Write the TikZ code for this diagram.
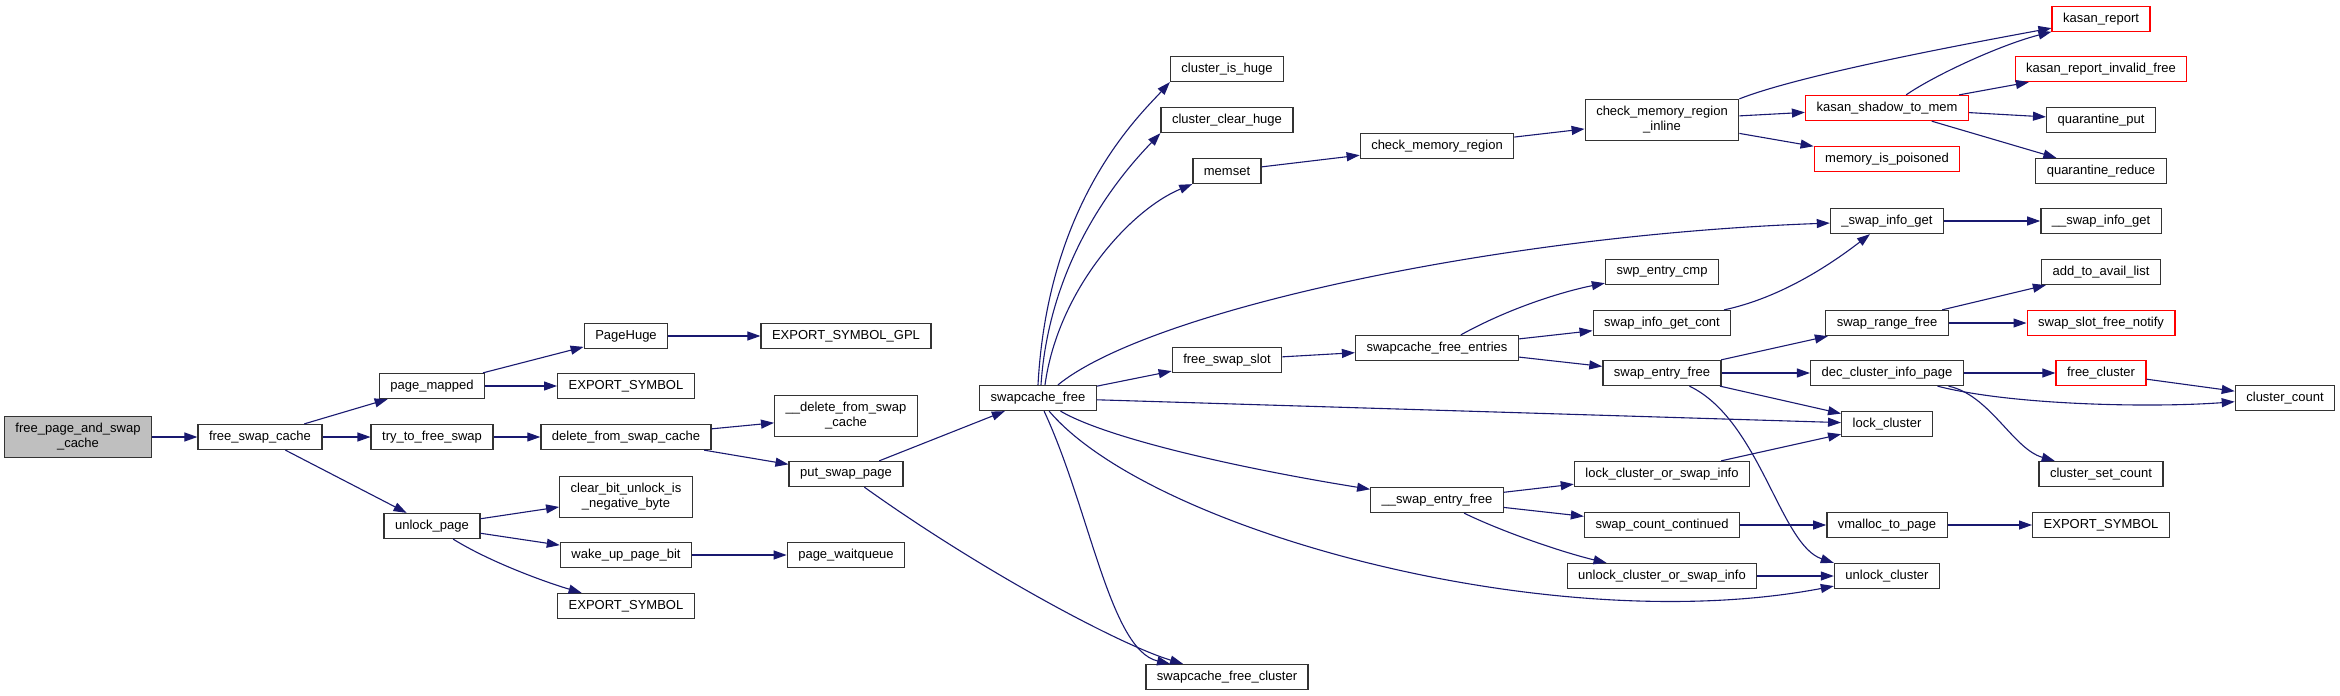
\documentclass[tikz,border=0pt]{standalone}
\usepackage{fontspec}
\setmainfont{Liberation Sans}
\usetikzlibrary{arrows.meta}

\definecolor{callblue}{HTML}{191970}
\definecolor{rootgray}{HTML}{BFBFBF}
\definecolor{warnred}{HTML}{FF0000}

\begin{document}
\begin{tikzpicture}[x=1pt, y=-1pt,
  every node/.style={font=\fontsize{13}{15}\selectfont},
  >={Triangle[length=13pt, width=9pt]},
  fn/.style={draw=black!80, line width=1.3pt, minimum height=25pt, inner xsep=11pt, inner ysep=5pt, align=center},
  fnred/.style={fn, draw=warnred},
  twoline/.style={fn, minimum height=41pt},
  call/.style={->, draw=callblue, line width=1.1pt}]
  \path[use as bounding box, fill=white] (0,0) rectangle (2340,696);

  \node[twoline, fill=rootgray] (fpsc) at (78,437) {free\_page\_and\_swap\\\_cache};
  \node[fn] (fsc) at (260,437) {free\_swap\_cache};
  \node[fn] (pm) at (432,386) {page\_mapped};
  \node[fn] (ttfs) at (432,437) {try\_to\_free\_swap};
  \node[fn] (ulp) at (432,526) {unlock\_page};
  \node[fn] (ph) at (626,336) {PageHuge};
  \node[fn] (es1) at (626,386) {EXPORT\_SYMBOL};
  \node[fn] (dfsc) at (626,437) {delete\_from\_swap\_cache};
  \node[twoline] (cbu) at (626,497) {clear\_bit\_unlock\_is\\\_negative\_byte};
  \node[fn] (wupb) at (626,555) {wake\_up\_page\_bit};
  \node[fn] (es2) at (626,606) {EXPORT\_SYMBOL};
  \node[fn] (esg) at (846,336) {EXPORT\_SYMBOL\_GPL};
  \node[twoline] (ddfsc) at (846,416) {\_\_delete\_from\_swap\\\_cache};
  \node[fn] (psp) at (846,474) {put\_swap\_page};
  \node[fn] (pwq) at (846,555) {page\_waitqueue};
  \node[fn] (sf) at (1038,398) {swapcache\_free};
  \node[fn] (cih) at (1227,69) {cluster\_is\_huge};
  \node[fn] (cch) at (1227,120) {cluster\_clear\_huge};
  \node[fn] (ms) at (1227,171) {memset};
  \node[fn] (fss) at (1227,360) {free\_swap\_slot};
  \node[fn] (sfc) at (1227,677) {swapcache\_free\_cluster};
  \node[fn] (cmr) at (1437,146) {check\_memory\_region};
  \node[fn] (sfe) at (1437,348) {swapcache\_free\_entries};
  \node[fn] (sef2) at (1437,500) {\_\_swap\_entry\_free};
  \node[twoline] (cmri) at (1662,120) {check\_memory\_region\\\_inline};
  \node[fn] (sec) at (1662,272) {swp\_entry\_cmp};
  \node[fn] (sigc) at (1662,323) {swap\_info\_get\_cont};
  \node[fn] (sef) at (1662,373) {swap\_entry\_free};
  \node[fn] (lcsi) at (1662,474) {lock\_cluster\_or\_swap\_info};
  \node[fn] (scc) at (1662,525) {swap\_count\_continued};
  \node[fn] (ucsi) at (1662,576) {unlock\_cluster\_or\_swap\_info};
  \node[fnred] (ksm) at (1887,108) {kasan\_shadow\_to\_mem};
  \node[fnred] (mip) at (1887,159) {memory\_is\_poisoned};
  \node[fn] (sig) at (1887,221) {\_swap\_info\_get};
  \node[fn] (srf) at (1887,323) {swap\_range\_free};
  \node[fn] (dcip) at (1887,373) {dec\_cluster\_info\_page};
  \node[fn] (lc) at (1887,424) {lock\_cluster};
  \node[fn] (vtp) at (1887,525) {vmalloc\_to\_page};
  \node[fn] (uc) at (1887,576) {unlock\_cluster};
  \node[fnred] (kr) at (2101,19) {kasan\_report};
  \node[fnred] (krif) at (2101,69) {kasan\_report\_invalid\_free};
  \node[fn] (qp) at (2101,120) {quarantine\_put};
  \node[fn] (qr) at (2101,171) {quarantine\_reduce};
  \node[fn] (sig2) at (2101,221) {\_\_swap\_info\_get};
  \node[fn] (atal) at (2101,272) {add\_to\_avail\_list};
  \node[fnred] (ssfn) at (2101,323) {swap\_slot\_free\_notify};
  \node[fnred] (fc) at (2101,373) {free\_cluster};
  \node[fn] (csc) at (2101,474) {cluster\_set\_count};
  \node[fn] (es3) at (2101,525) {EXPORT\_SYMBOL};
  \node[fn] (cc) at (2285,398) {cluster\_count};

  \draw[call] (fpsc) -- (fsc);
  \draw[call] (fsc) -- (pm);
  \draw[call] (fsc) -- (ttfs);
  \draw[call] (fsc) -- (ulp);
  \draw[call] (pm) -- (ph);
  \draw[call] (pm) -- (es1);
  \draw[call] (ph) -- (esg);
  \draw[call] (ttfs) -- (dfsc);
  \draw[call] (dfsc) -- (ddfsc);
  \draw[call] (dfsc) -- (psp);
  \draw[call] (ulp) -- (cbu);
  \draw[call] (ulp) -- (wupb);
  \draw[call] (ulp) .. controls (490,562) and (545,582) .. (es2);
  \draw[call] (wupb) -- (pwq);
  \draw[call] (psp) -- (sf);
  \draw[call] (psp) .. controls (980,570) and (1120,645) .. (sfc);

  \draw[call] (sf.north) .. controls (1048,200) and (1140,115) .. (cih.south west);
  \draw[call] ([xshift=3pt]sf.north) .. controls (1050,250) and (1130,165) .. (cch.south west);
  \draw[call] ([xshift=7pt]sf.north) .. controls (1058,290) and (1130,210) .. (ms.south west);
  \draw[call] ([xshift=20pt]sf.north) .. controls (1150,310) and (1500,235) .. (sig);
  \draw[call] (sf) -- (fss);
  \draw[call] (sf) -- (lc);
  \draw[call] (sf) .. controls (1110,440) and (1250,470) .. (sef2);
  \draw[call] (sf) .. controls (1150,530) and (1550,640) .. (uc);
  \draw[call] (sf) .. controls (1090,510) and (1110,650) .. (sfc);

  \draw[call] (ms) -- (cmr);
  \draw[call] (cmr) -- (cmri);
  \draw[call] (cmri.north east) .. controls (1800,75) and (1960,45) .. (kr);
  \draw[call] (cmri) -- (ksm);
  \draw[call] (cmri) -- (mip);
  \draw[call] (ksm) .. controls (1935,75) and (2000,45) .. (kr);
  \draw[call] (ksm) -- (krif);
  \draw[call] (ksm) -- (qp);
  \draw[call] (ksm) -- (qr);
  \draw[call] (sig) -- (sig2);

  \draw[call] (fss) -- (sfe);
  \draw[call] (sfe) .. controls (1515,305) and (1570,290) .. (sec);
  \draw[call] (sfe) -- (sigc);
  \draw[call] (sfe) -- (sef);
  \draw[call] (sigc) .. controls (1780,298) and (1830,265) .. (sig);
  \draw[call] (sef) -- (srf);
  \draw[call] (sef) -- (dcip);
  \draw[call] (sef) -- (lc);
  \draw[call] (sef) .. controls (1760,420) and (1780,545) .. (uc.north west);
  \draw[call] (srf) -- (atal);
  \draw[call] (srf) -- (ssfn);
  \draw[call] (dcip) -- (fc);
  \draw[call] (dcip) .. controls (2010,405) and (2150,408) .. (cc);
  \draw[call] (dcip) .. controls (1990,395) and (2013,449) .. (csc);
  \draw[call] (fc) -- (cc);

  \draw[call] (sef2) -- (lcsi);
  \draw[call] (sef2) -- (scc);
  \draw[call] (sef2) .. controls (1505,533) and (1565,553) .. (ucsi);
  \draw[call] (lcsi) -- (lc);
  \draw[call] (scc) -- (vtp);
  \draw[call] (vtp) -- (es3);
  \draw[call] (ucsi) -- (uc);
\end{tikzpicture}
\end{document}
